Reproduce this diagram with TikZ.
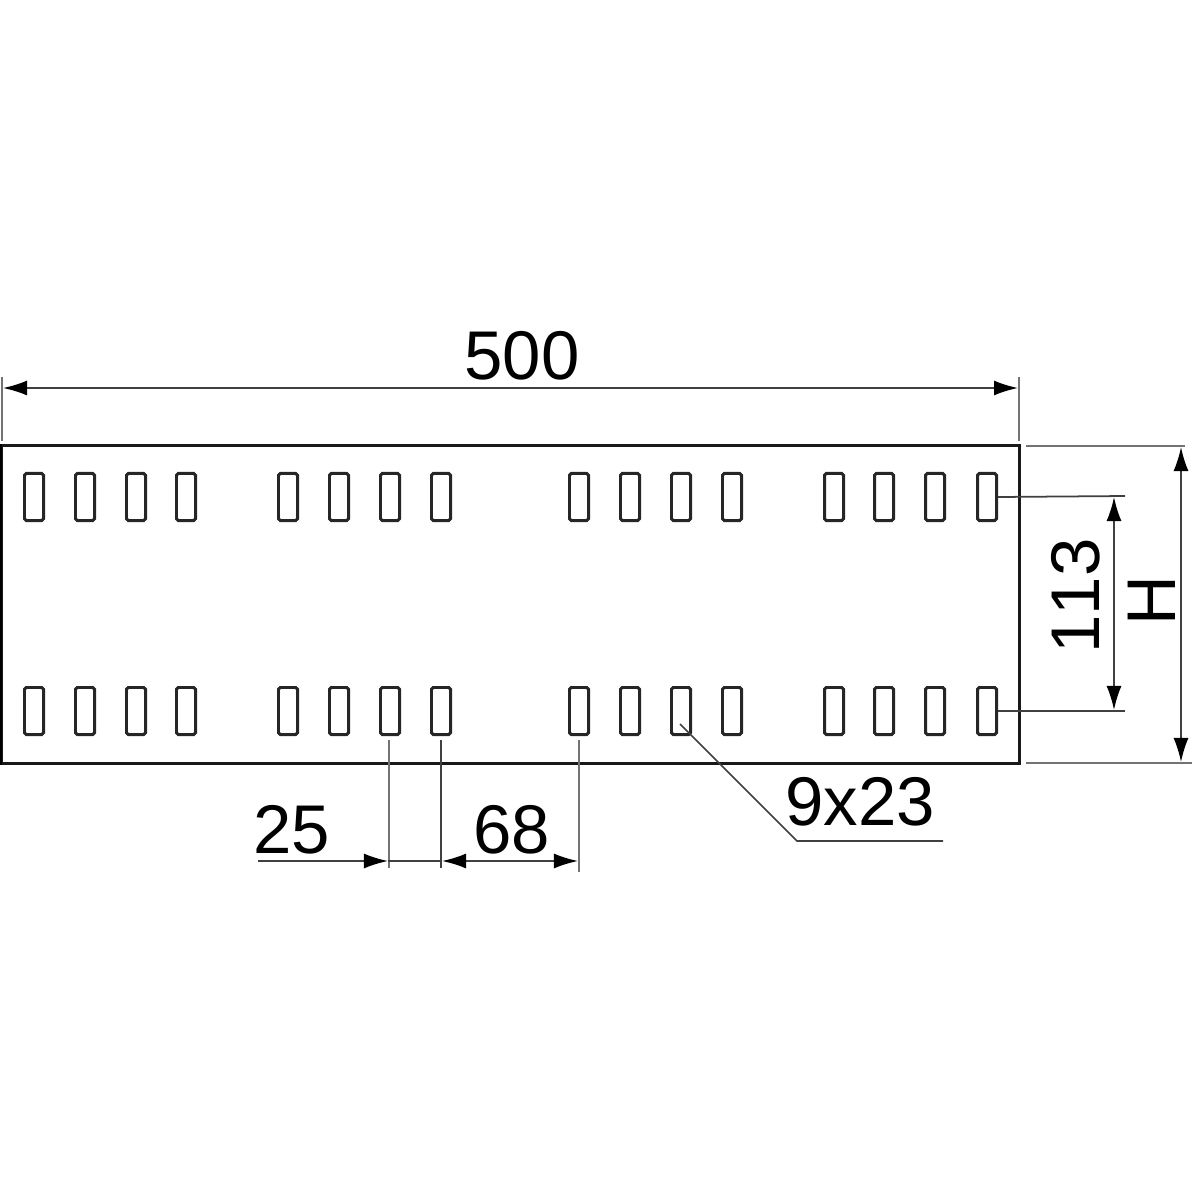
\documentclass[tikz,border=0pt]{standalone}
\usepackage{fontspec}
\setmainfont[Kerning=Off]{Liberation Sans}
\usetikzlibrary{calc}
\usetikzlibrary{arrows.meta}

\tikzset{
	slot/.style = {draw = black!85, line width = 0.85pt, rounded corners = 0.5pt, minimum width = 0.19cm, minimum height = 0.47cm, inner sep = 0pt},
	dimLine/.style = {line width = 0.5pt, black!75},
	extLine/.style = {line width = 0.55pt, black!55},
	dimText/.style = {font = \fontsize{19.6}{19.6}\selectfont, inner sep = 0pt}
}

\begin{document}
\begin{tikzpicture}[x = 0.01cm, y = -0.01cm, >={Latex[length = 2.4mm, width = 1.5mm, black]}]

	\useasboundingbox (0,0) rectangle (1200,1200);

	% tray
	\node [draw = black!90, line width = 0.85pt, minimum width = 10.17cm, minimum height = 3.17cm, inner sep = 0pt] (tray) at (510.5,604.5) {};
	\draw [line width = 0.9pt] (tray.north west) -- (tray.south west);

	% slots
	\foreach \x [count = \i] in {34,85,136,186,288,339,390,441,579,630,681,732,834,884,935,987} {
		\node [slot] (upper\i) at (\x,497) {};
		\node [slot] (lower\i) at (\x,711) {};
	}

	% overall width
	\node [dimText] (widthText) at (522,356) {500};
	\coordinate (widthLeftTop) at (2,377);
	\coordinate (widthLeftEnd) at (2,441);
	\coordinate (widthRightTop) at (1019,377);
	\coordinate (widthRightEnd) at (1019,441);
	\draw [extLine] (widthLeftTop) -- (widthLeftEnd);
	\draw [extLine] (widthRightTop) -- (widthRightEnd);
	\draw [dimLine, <->] (3,388) -- (1018,388);

	% height H
	\coordinate (heightTopStart) at (1026,446);
	\coordinate (heightTopEnd) at (1185,446);
	\coordinate (heightLowStart) at (1026,763);
	\coordinate (heightLowEnd) at (1192,763);
	\draw [extLine] (heightTopStart) -- (heightTopEnd);
	\draw [extLine] (heightLowStart) -- (heightLowEnd);
	\draw [dimLine, <->] (1181,447) -- (1181,762);
	\node [dimText, rotate = 90] (heightText) at (1152,601) {H};

	% slot distance 113
	\coordinate (upperEnd) at (1125,496);
	\coordinate (lowerEnd) at (1125,711);
	\draw [dimLine] (upper16.east) -- (upperEnd);
	\draw [dimLine] (lower16.east) -- (lowerEnd);
	\draw [dimLine, <->] (1114,497) -- (1114,710);
	\node [dimText, rotate = 90] (distanceText) at (1076,596) {113};

	% spacing below the tray
	\coordinate (pitchLeftEnd) at (389,868);
	\coordinate (pitchRightEnd) at (441,868);
	\coordinate (gapEnd) at (579,872);
	\draw [extLine] (389,740) -- (pitchLeftEnd);
	\draw [dimLine] (441,740) -- (pitchRightEnd);
	\draw [extLine] (579,740) -- (gapEnd);
	\draw [dimLine, ->] (258,861) -- (388,861);
	\draw [dimLine] (388,861) -- (442,861);
	\draw [dimLine, <->] (442,861) -- (578,861);
	\node [dimText] (pitchText) at (292,830) {25};
	\node [dimText] (gapText) at (512,830) {68};

	% slot size leader
	\coordinate (leaderStart) at (680,724);
	\coordinate (leaderBend) at (797,841);
	\coordinate (leaderEnd) at (943,841);
	\draw [dimLine] (leaderStart) -- (leaderBend) -- (leaderEnd);
	\node [dimText] (slotText) at (860,802) {9x23};

\end{tikzpicture}
\end{document}
